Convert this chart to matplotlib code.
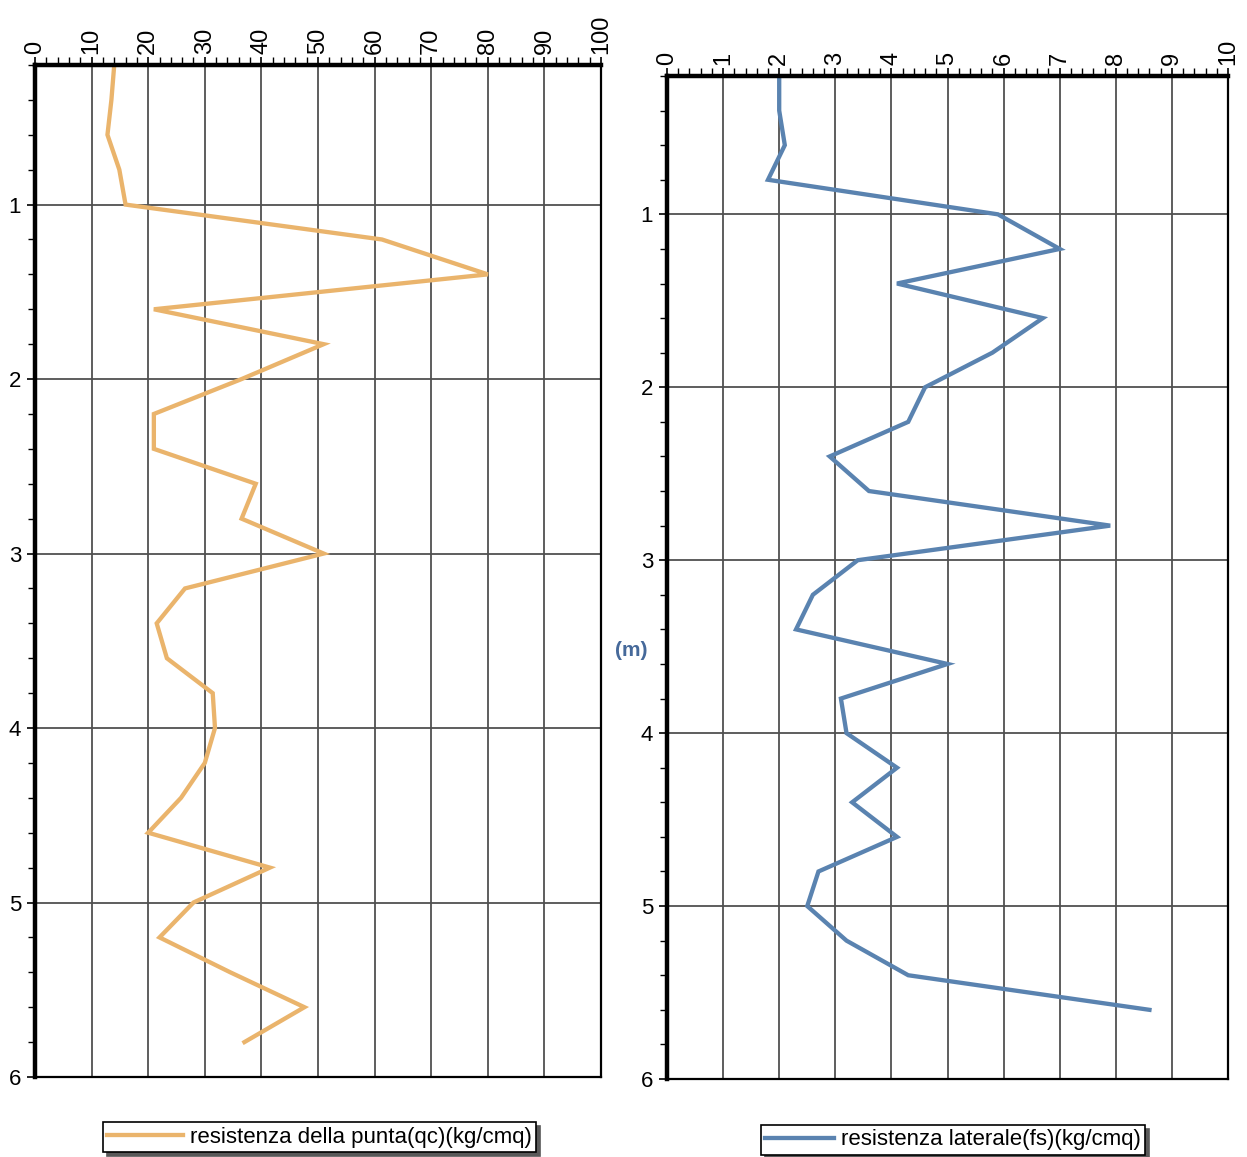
import matplotlib
matplotlib.use("Agg")
import matplotlib.pyplot as plt
from matplotlib.ticker import MultipleLocator

plt.rcParams['font.family'] = ['Liberation Sans', 'DejaVu Sans']

# Penetrometer readings (depth in metres)
depth_qc = [0.2, 0.4, 0.6, 0.8, 1.0, 1.2, 1.4, 1.6, 1.8, 2.0,
            2.2, 2.4, 2.6, 2.8, 3.0, 3.2, 3.4, 3.6, 3.8, 4.0,
            4.2, 4.4, 4.6, 4.8, 5.0, 5.2, 5.4, 5.6, 5.8]
qc = [14.0, 13.5, 12.8, 14.9, 16.0, 61.3, 80.0, 21.0, 51.0, 36.5,
      21.0, 21.0, 39.0, 36.5, 51.0, 26.5, 21.5, 23.3, 31.4, 31.8,
      30.0, 25.8, 20.0, 41.5, 28.0, 22.0, 34.5, 47.6, 37.0]

depth_fs = [0.2, 0.4, 0.6, 0.8, 1.0, 1.2, 1.4, 1.6, 1.8, 2.0,
            2.2, 2.4, 2.6, 2.8, 3.0, 3.2, 3.4, 3.6, 3.8, 4.0,
            4.2, 4.4, 4.6, 4.8, 5.0, 5.2, 5.4, 5.6]
fs = [2.0, 2.0, 2.1, 1.8, 5.9, 7.0, 4.1, 6.7, 5.8, 4.6,
      4.3, 2.9, 3.6, 7.9, 3.4, 2.6, 2.3, 5.0, 3.1, 3.2,
      4.1, 3.3, 4.1, 2.7, 2.5, 3.2, 4.3, 8.6]

qc_ticks = [0, 10, 20, 30, 40, 50, 60, 70, 80, 90, 100]
fs_ticks = [0, 1, 2, 3, 4, 5, 6, 7, 8, 9, 10]
depth_ticks = [1, 2, 3, 4, 5, 6]

label_qc = "resistenza della punta(qc)(kg/cmq)"
label_fs = "resistenza laterale(fs)(kg/cmq)"
depth_label = "(m)"

ORANGE = "#EAB46C"
BLUE = "#5A83B0"
GRID = "#505050"

W, H = 1247, 1157
fig = plt.figure(figsize=(W / 100, H / 100), dpi=100)


def px_axes(left, top, right, bottom):
    return [left / W, 1 - bottom / H, (right - left) / W, (bottom - top) / H]


ax1 = fig.add_axes(px_axes(35, 65, 601, 1077))
ax2 = fig.add_axes(px_axes(667, 76, 1228, 1079))


def style_axes(ax, ticks, minor_step):
    ax.set_xlim(ticks[0], ticks[-1])
    ax.set_ylim(6, 0.2)
    ax.xaxis.tick_top()
    ax.set_xticks(ticks)
    ax.set_xticklabels([str(t) for t in ticks])
    ax.xaxis.set_minor_locator(MultipleLocator(minor_step))
    ax.set_yticks(depth_ticks)
    ax.set_yticklabels([str(t) for t in depth_ticks])
    ax.yaxis.set_minor_locator(MultipleLocator(0.2))
    ax.tick_params(axis='x', which='major', top=True, bottom=False,
                   length=6, width=1.2, labelsize=17, labelrotation=90,
                   pad=2, color='black')
    ax.tick_params(axis='x', which='minor', top=True, bottom=False,
                   length=5.5, width=1.0)
    ax.tick_params(axis='y', which='major', length=6, width=1.2,
                   labelsize=16, pad=4)
    ax.tick_params(axis='y', which='minor', length=5, width=1.0)
    ax.grid(True, which='major', color=GRID, lw=1.3)
    ax.set_axisbelow(True)
    ax.spines['left'].set_linewidth(3.2)
    ax.spines['top'].set_linewidth(3.2)
    ax.spines['right'].set_linewidth(1.6)
    ax.spines['bottom'].set_linewidth(1.6)


style_axes(ax1, qc_ticks, 2)
style_axes(ax2, fs_ticks, 0.2)

h1, = ax1.plot(qc, depth_qc, color=ORANGE, lw=3.1, solid_joinstyle='miter',
               label=label_qc)
h2, = ax2.plot(fs, depth_fs, color=BLUE, lw=3.1, solid_joinstyle='miter',
               label=label_fs)

fig.text(631 / W, 1 - 651 / H, depth_label, color="#46699A", fontsize=15,
         fontweight='bold', ha='center', va='center')

shadow_props = {'ox': 3, 'oy': -3, 'color': '0.35', 'alpha': 1.0}
for handle, cx, cy, hlen in ((h1, 319.5, 1137, 3.4), (h2, 953, 1140, 3.1)):
    leg = fig.legend(handles=[handle], loc='center',
                     bbox_to_anchor=(cx / W, 1 - cy / H),
                     frameon=True, fancybox=False, shadow=shadow_props,
                     fontsize=16, handlelength=hlen, handletextpad=0.3,
                     borderpad=0.2, borderaxespad=0, framealpha=1)
    leg.get_frame().set_edgecolor('black')
    leg.get_frame().set_linewidth(1.2)

fig.savefig("out.png", dpi=100)
